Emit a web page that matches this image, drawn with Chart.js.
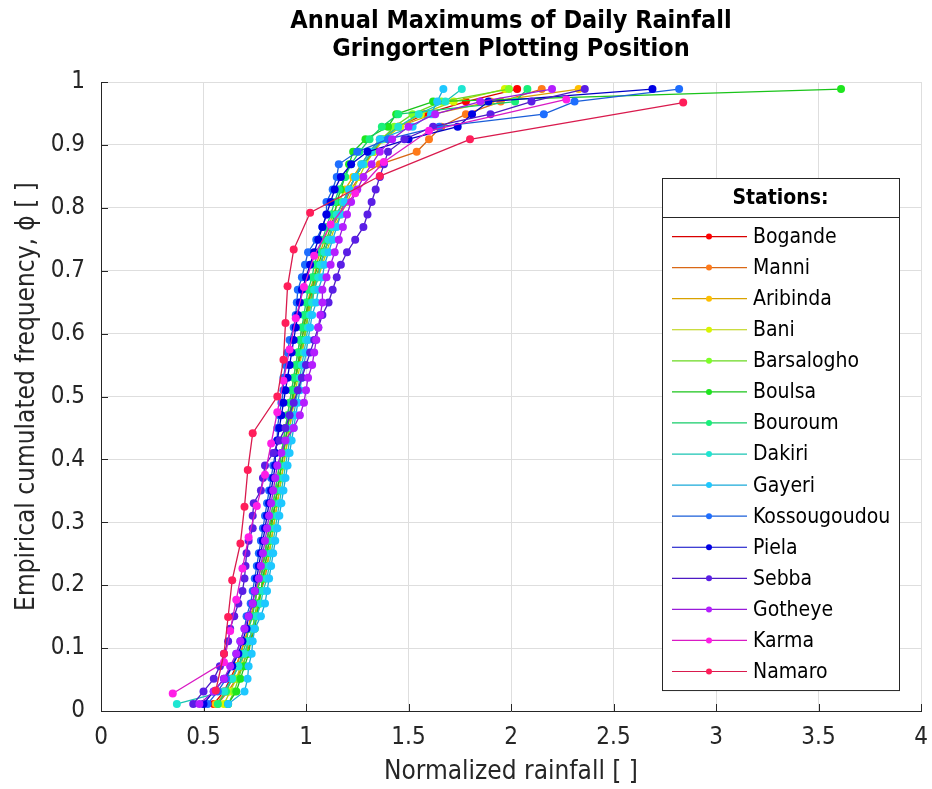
<!DOCTYPE html>
<html>
<head>
<meta charset="utf-8">
<script src="https://cdn.jsdelivr.net/npm/chart.js@4.4.1/dist/chart.umd.min.js"></script>
<style>
  html, body { margin: 0; padding: 0; background: #fff; }
  #wrap { width: 932px; height: 789px; }
</style>
</head>
<body>
<div id="wrap"><canvas id="rainChart" width="932" height="789"></canvas></div>
<script>
const stations = ['Bogande', 'Manni', 'Aribinda', 'Bani', 'Barsalogho', 'Boulsa', 'Bouroum', 'Dakiri',
  'Gayeri', 'Kossougoudou', 'Piela', 'Sebba', 'Gotheye', 'Karma', 'Namaro'];
const colors = ['#ff0000', '#ff7a1a', '#ffbf00', '#d9f500', '#7dff26', '#1ee61e', '#19f07a', '#1ee6d2',
  '#1ec8ff', '#1e6eff', '#0000e6', '#5a1ee6', '#b41eff', '#ff1ee6', '#ff1e5a'];

// plotting positions (frequency) for samples of 50, 20 and 17 years
const phi50 = [0.0112, 0.0311, 0.0511, 0.0710, 0.0910, 0.1109, 0.1309, 0.1508, 0.1708, 0.1907,
  0.2107, 0.2307, 0.2506, 0.2706, 0.2905, 0.3105, 0.3304, 0.3504, 0.3703, 0.3903,
  0.4102, 0.4302, 0.4501, 0.4701, 0.4900, 0.5100, 0.5299, 0.5499, 0.5698, 0.5898,
  0.6097, 0.6297, 0.6496, 0.6696, 0.6895, 0.7095, 0.7294, 0.7494, 0.7693, 0.7893,
  0.8092, 0.8292, 0.8491, 0.8691, 0.8890, 0.9090, 0.9289, 0.9489, 0.9689, 0.9888];
const phi20 = [0.0278, 0.0775, 0.1272, 0.1769, 0.2266, 0.2763, 0.3260, 0.3757, 0.4254, 0.4751,
  0.5249, 0.5746, 0.6243, 0.6740, 0.7237, 0.7734, 0.8231, 0.8728, 0.9225, 0.9722];
const phi17 = [0.0327, 0.0911, 0.1495, 0.2079, 0.2664, 0.3248, 0.3832, 0.4416, 0.5000, 0.5584,
  0.6168, 0.6752, 0.7336, 0.7921, 0.8505, 0.9089, 0.9673];

// normalized rainfall, sorted
const bogande = [0.55, 0.60, 0.63, 0.66, 0.68, 0.70, 0.72, 0.73, 0.75, 0.76,
  0.78, 0.79, 0.80, 0.81, 0.82, 0.84, 0.85, 0.86, 0.87, 0.88,
  0.89, 0.90, 0.91, 0.92, 0.93, 0.94, 0.95, 0.96, 0.98, 0.99,
  1.00, 1.01, 1.02, 1.04, 1.05, 1.07, 1.09, 1.11, 1.13, 1.15,
  1.18, 1.21, 1.24, 1.28, 1.33, 1.37, 1.45, 1.58, 1.78, 2.03];
const manni = [0.57, 0.62, 0.66, 0.69, 0.71, 0.73, 0.74, 0.76, 0.77, 0.78,
  0.80, 0.81, 0.82, 0.83, 0.84, 0.85, 0.86, 0.87, 0.88, 0.89,
  0.90, 0.91, 0.92, 0.93, 0.94, 0.94, 0.95, 0.96, 0.97, 0.98,
  0.99, 1.00, 1.02, 1.03, 1.05, 1.07, 1.09, 1.11, 1.13, 1.16,
  1.19, 1.22, 1.26, 1.36, 1.54, 1.60, 1.66, 1.78, 1.95, 2.15];
const aribinda = [0.56, 0.61, 0.64, 0.66, 0.68, 0.70, 0.72, 0.73, 0.75, 0.76,
  0.77, 0.78, 0.80, 0.81, 0.82, 0.83, 0.84, 0.85, 0.86, 0.87,
  0.88, 0.89, 0.90, 0.91, 0.92, 0.93, 0.94, 0.95, 0.96, 0.97,
  0.98, 1.00, 1.01, 1.02, 1.04, 1.05, 1.07, 1.09, 1.11, 1.13,
  1.16, 1.19, 1.23, 1.27, 1.31, 1.36, 1.45, 1.62, 1.90, 2.33];
const bani = [0.60, 0.63, 0.66, 0.68, 0.70, 0.72, 0.74, 0.75, 0.77, 0.78,
  0.79, 0.81, 0.82, 0.83, 0.84, 0.85, 0.86, 0.87, 0.88, 0.89,
  0.90, 0.91, 0.92, 0.93, 0.94, 0.95, 0.96, 0.97, 0.98, 0.99,
  1.00, 1.01, 1.03, 1.04, 1.06, 1.08, 1.10, 1.12, 1.14, 1.17,
  1.20, 1.23, 1.26, 1.29, 1.33, 1.38, 1.46, 1.56, 1.72, 1.97];
const barsalogho = [0.62, 0.65, 0.67, 0.69, 0.71, 0.72, 0.74, 0.75, 0.76, 0.78,
  0.79, 0.80, 0.81, 0.82, 0.83, 0.84, 0.85, 0.86, 0.87, 0.88,
  0.89, 0.90, 0.91, 0.92, 0.93, 0.94, 0.95, 0.96, 0.97, 0.99,
  1.00, 1.01, 1.02, 1.04, 1.05, 1.07, 1.09, 1.11, 1.13, 1.15,
  1.18, 1.21, 1.24, 1.28, 1.32, 1.37, 1.43, 1.52, 1.66, 1.99];
const boulsa = [0.62, 0.66, 0.68, 0.70, 0.72, 0.73, 0.75, 0.76, 0.77, 0.78,
  0.79, 0.80, 0.81, 0.82, 0.83, 0.84, 0.85, 0.86, 0.87, 0.88,
  0.89, 0.90, 0.91, 0.92, 0.93, 0.94, 0.95, 0.96, 0.97, 0.98,
  0.99, 1.00, 1.01, 1.03, 1.04, 1.06, 1.08, 1.10, 1.12, 1.14,
  1.15, 1.17, 1.19, 1.21, 1.23, 1.29, 1.40, 1.44, 1.62, 3.61];
const bouroum = [0.57, 0.61, 0.64, 0.67, 0.69, 0.71, 0.72, 0.74, 0.75, 0.76,
  0.78, 0.79, 0.80, 0.81, 0.82, 0.83, 0.84, 0.85, 0.86, 0.87,
  0.88, 0.89, 0.90, 0.91, 0.92, 0.93, 0.94, 0.95, 0.96, 0.97,
  0.98, 0.99, 1.00, 1.01, 1.03, 1.04, 1.06, 1.08, 1.10, 1.12,
  1.14, 1.16, 1.19, 1.22, 1.26, 1.31, 1.37, 1.45, 2.02, 2.08];
const dakiri = [0.37, 0.60, 0.64, 0.67, 0.70, 0.72, 0.74, 0.76, 0.78, 0.79,
  0.81, 0.82, 0.83, 0.84, 0.85, 0.86, 0.87, 0.88, 0.89, 0.90,
  0.91, 0.92, 0.93, 0.94, 0.95, 0.96, 0.97, 0.98, 0.99, 1.00,
  1.01, 1.02, 1.03, 1.04, 1.06, 1.07, 1.09, 1.11, 1.13, 1.15,
  1.18, 1.21, 1.24, 1.28, 1.32, 1.37, 1.45, 1.55, 1.68, 1.76];
const gayeri = [0.62, 0.70, 0.715, 0.72, 0.735, 0.74, 0.75, 0.78, 0.80, 0.81,
  0.82, 0.83, 0.84, 0.85, 0.86, 0.87, 0.88, 0.89, 0.90, 0.91,
  0.92, 0.93, 0.94, 0.95, 0.96, 0.97, 0.98, 0.99, 1.00, 1.01,
  1.02, 1.03, 1.05, 1.06, 1.08, 1.09, 1.11, 1.13, 1.15, 1.17,
  1.19, 1.21, 1.24, 1.27, 1.31, 1.36, 1.52, 1.61, 1.64, 1.67];
const kossougoudou = [0.52, 0.57, 0.61, 0.64, 0.66, 0.68, 0.70, 0.71, 0.73, 0.74,
  0.75, 0.76, 0.77, 0.78, 0.79, 0.80, 0.81, 0.82, 0.83, 0.84,
  0.85, 0.86, 0.86, 0.87, 0.88, 0.89, 0.89, 0.90, 0.91, 0.92,
  0.94, 0.95, 0.955, 0.96, 0.98, 0.995, 1.01, 1.05, 1.08, 1.10,
  1.10, 1.13, 1.15, 1.16, 1.25, 1.40, 1.65, 2.16, 2.31, 2.82];
const piela = [0.50, 0.55, 0.60, 0.64, 0.67, 0.69, 0.71, 0.72, 0.74, 0.75,
  0.76, 0.77, 0.78, 0.79, 0.80, 0.81, 0.82, 0.83, 0.84, 0.85,
  0.85, 0.86, 0.87, 0.88, 0.89, 0.90, 0.91, 0.92, 0.93, 0.94,
  0.95, 0.96, 0.97, 0.98, 1.00, 1.02, 1.04, 1.06, 1.08, 1.10,
  1.12, 1.14, 1.17, 1.22, 1.30, 1.50, 1.74, 1.81, 1.89, 2.69];
const sebba = [0.45, 0.50, 0.55, 0.58, 0.60, 0.62, 0.63, 0.65, 0.67, 0.69,
  0.70, 0.705, 0.71, 0.72, 0.74, 0.74, 0.745, 0.78, 0.79, 0.80,
  0.84, 0.87, 0.90, 0.92, 0.94, 0.96, 0.98, 1.00, 1.02, 1.04,
  1.06, 1.08, 1.11, 1.13, 1.15, 1.17, 1.20, 1.24, 1.28, 1.30,
  1.32, 1.34, 1.36, 1.38, 1.40, 1.48, 1.62, 1.90, 2.10, 2.36];
const gotheye = [0.48, 0.55, 0.60, 0.63, 0.66, 0.68, 0.70, 0.72, 0.74, 0.75,
  0.77, 0.78, 0.79, 0.80, 0.81, 0.82, 0.83, 0.84, 0.85, 0.86,
  0.88, 0.90, 0.94, 0.97, 0.99, 1.00, 1.01, 1.03, 1.04, 1.05,
  1.06, 1.07, 1.08, 1.08, 1.10, 1.12, 1.14, 1.16, 1.18, 1.20,
  1.22, 1.25, 1.28, 1.32, 1.36, 1.42, 1.50, 1.63, 1.85, 2.20];
const karma = [0.35, 0.60, 0.63, 0.66, 0.69, 0.72, 0.76, 0.80, 0.83, 0.86,
  0.89, 0.92, 0.95, 0.99, 1.04, 1.12, 1.24, 1.38, 1.60, 2.27];
const namaro = [0.56, 0.60, 0.62, 0.64, 0.68, 0.70, 0.716, 0.74, 0.86, 0.89,
  0.90, 0.91, 0.94, 1.02, 1.36, 1.80, 2.84];

const rainfall = [bogande, manni, aribinda, bani, barsalogho, boulsa, bouroum, dakiri,
  gayeri, kossougoudou, piela, sebba, gotheye, karma, namaro];
const freqs = [phi50, phi50, phi50, phi50, phi50, phi50, phi50, phi50,
  phi50, phi50, phi50, phi50, phi50, phi20, phi17];

const xTicks = [0, 0.5, 1, 1.5, 2, 2.5, 3, 3.5, 4];
const xTickLabels = ['0', '0.5', '1', '1.5', '2', '2.5', '3', '3.5', '4'];
const yTicks = [0, 0.1, 0.2, 0.3, 0.4, 0.5, 0.6, 0.7, 0.8, 0.9, 1];
const yTickLabels = ['0', '0.1', '0.2', '0.3', '0.4', '0.5', '0.6', '0.7', '0.8', '0.9', '1'];

const FONT = "'Liberation Sans Narrow', 'DejaVu Sans Condensed', 'Liberation Sans', sans-serif";
const AXIS = '#262626';

function darker(hex, f) {
  const n = parseInt(hex.slice(1), 16);
  const r = Math.round(((n >> 16) & 255) * f), g = Math.round(((n >> 8) & 255) * f), b = Math.round((n & 255) * f);
  return `rgb(${r},${g},${b})`;
}

// inward tick marks like matlab
const innerTicks = {
  id: 'innerTicks',
  beforeDatasetsDraw(chart) {
    const {ctx, chartArea: a, scales: {x, y}} = chart;
    ctx.save();
    ctx.strokeStyle = AXIS;
    ctx.lineWidth = 1;
    ctx.beginPath();
    xTicks.forEach(v => {
      const px = Math.round(x.getPixelForValue(v)) + 0.5;
      ctx.moveTo(px, a.bottom); ctx.lineTo(px, a.bottom - 7);
    });
    yTicks.forEach(v => {
      const py = Math.round(y.getPixelForValue(v)) + 0.5;
      ctx.moveTo(a.left, py); ctx.lineTo(a.left + 7, py);
    });
    ctx.stroke();
    ctx.restore();
  }
};

// boxed legend with header, inside the axes
const stationBox = {
  id: 'stationBox',
  afterDraw(chart) {
    const {ctx, chartArea: a} = chart;
    const ds = chart.data.datasets;
    const left = a.right - 259, top = a.top + 96, w = 237;
    const headH = 39, rowH = 31.07;
    const h = headH + 4 + rowH * ds.length + 3;
    ctx.save();
    ctx.fillStyle = '#fff';
    ctx.fillRect(left, top, w, h);
    ctx.strokeStyle = AXIS;
    ctx.lineWidth = 1;
    ctx.strokeRect(left + 0.5, top + 0.5, w, h);
    ctx.beginPath();
    ctx.moveTo(left, top + headH + 0.5); ctx.lineTo(left + w, top + headH + 0.5);
    ctx.stroke();
    ctx.fillStyle = '#000';
    ctx.textBaseline = 'middle';
    ctx.textAlign = 'center';
    ctx.font = `bold 21px ${FONT}`;
    ctx.fillText('Stations:', left + w / 2, top + headH / 2 + 1);
    ctx.textAlign = 'left';
    ctx.font = `21px ${FONT}`;
    ds.forEach((d, i) => {
      const cy = top + headH + 4 + rowH * (i + 0.5);
      ctx.strokeStyle = d.borderColor;
      ctx.lineWidth = 1.2;
      ctx.beginPath();
      ctx.moveTo(left + 10, cy); ctx.lineTo(left + 85, cy);
      ctx.stroke();
      ctx.fillStyle = d.pointBackgroundColor;
      ctx.beginPath();
      ctx.arc(left + 47, cy, 3, 0, Math.PI * 2);
      ctx.fill();
      ctx.fillStyle = '#000';
      ctx.fillText(d.label, left + 91, cy + 1);
    });
    ctx.restore();
  }
};

const datasets = stations.map((name, k) => ({
  label: name,
  data: rainfall[k].map((v, i) => ({x: v, y: freqs[k][i]})),
  showLine: true,
  borderColor: darker(colors[k], 0.85),
  borderWidth: 1.3,
  backgroundColor: colors[k],
  pointBackgroundColor: colors[k],
  pointBorderWidth: 0,
  pointRadius: 4,
  pointHoverRadius: 4,
  order: stations.length - k
}));

new Chart(document.getElementById('rainChart'), {
  type: 'scatter',
  data: {datasets},
  plugins: [innerTicks, stationBox],
  options: {
    responsive: false,
    animation: false,
    devicePixelRatio: 1,
    layout: {padding: {left: 0, right: 0, top: 0, bottom: 0}},
    plugins: {
      legend: {display: false},
      tooltip: {enabled: false},
      title: {
        display: true,
        fullSize: false,
        text: ['Annual Maximums of Daily Rainfall', 'Gringorten Plotting Position'],
        color: '#000',
        font: {family: FONT, size: 25, weight: 'bold', lineHeight: 1.12},
        padding: {top: 7, bottom: 19}
      }
    },
    scales: {
      x: {
        type: 'linear', min: 0, max: 4,
        afterBuildTicks: s => { s.ticks = xTicks.map(v => ({value: v})); },
        afterFit: s => { s.height = 78; s.paddingLeft = 0; s.paddingRight = 11; },
        ticks: {
          callback: (v, i) => xTickLabels[i],
          color: '#262626', font: {family: FONT, size: 24}, padding: 12, maxRotation: 0
        },
        grid: {color: '#dedede', drawTicks: false},
        border: {display: true, color: AXIS, width: 1},
        title: {
          display: true, text: 'Normalized rainfall [ ]', color: '#262626',
          font: {family: FONT, size: 26}, padding: {top: 0, bottom: 1}
        }
      },
      y: {
        type: 'linear', min: 0, max: 1,
        afterBuildTicks: s => { s.ticks = yTicks.map(v => ({value: v})); },
        afterFit: s => { s.width = 101; },
        ticks: {
          callback: (v, i) => yTickLabels[i],
          color: '#262626', font: {family: FONT, size: 24}, padding: 16
        },
        grid: {color: '#dedede', drawTicks: false},
        border: {display: true, color: AXIS, width: 1},
        title: {
          display: true, text: 'Empirical cumulated frequency, \u03d5 [ ]', color: '#262626',
          font: {family: FONT, size: 26}, padding: {top: 12, bottom: 0}
        }
      }
    }
  }
});
</script>
</body>
</html>
